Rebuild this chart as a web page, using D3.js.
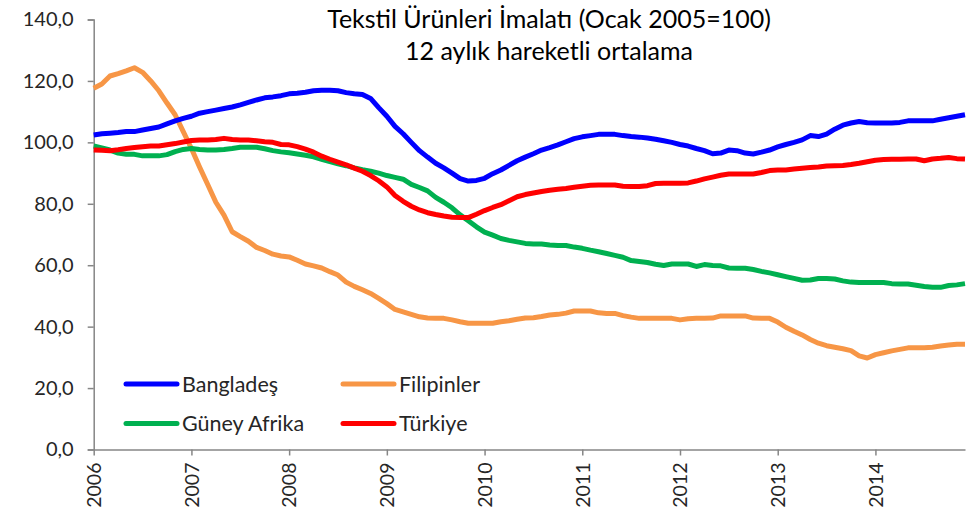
<!DOCTYPE html>
<html><head><meta charset="utf-8">
<script src="https://cdn.jsdelivr.net/npm/d3@7"></script>
<style>
html,body{margin:0;padding:0;background:#fff;}
svg{display:block;font-family:Lato,"Open Sans",sans-serif;}
</style></head>
<body>
<svg id="chart" width="977" height="515"></svg>
<script>
const titleLines = ["Tekstil Ürünleri İmalatı (Ocak 2005=100)", "12 aylık hareketli ortalama"];
const years = ["2006","2007","2008","2009","2010","2011","2012","2013","2014"];
const seriesNames = ["Bangladeş","Filipinler","Güney Afrika","Türkiye"];
const seriesColors = ["#0000FF","#F79646","#00B050","#FF0000"];
const yTicks = [0,20,40,60,80,100,120,140];

const bangladesh = [102.4,102.8,103.0,103.2,103.5,103.5,104.0,104.5,105.0,106.0,107.0,107.8,
108.5,109.5,110.0,110.5,111.0,111.5,112.2,113.0,113.8,114.5,114.8,115.2,
115.8,116.0,116.3,116.8,117.0,117.0,116.8,116.2,115.8,115.6,114.3,111.3,
108.5,105.2,102.8,100.0,97.3,95.2,93.2,91.7,90.0,88.2,87.4,87.6,
88.3,89.8,91.0,92.5,94.0,95.2,96.3,97.5,98.3,99.2,100.2,101.2,
101.8,102.2,102.6,102.6,102.6,102.2,101.9,101.7,101.4,101.0,100.5,100.0,
99.3,98.8,98.0,97.3,96.3,96.5,97.5,97.3,96.5,96.2,96.8,97.5,
98.5,99.3,100.0,100.8,102.2,101.9,102.7,104.3,105.6,106.3,106.8,106.4,
106.3,106.3,106.3,106.5,107.0,107.0,107.0,107.0,107.5,108.0,108.5,109.0];

const filipinler = [117.6,119.0,121.6,122.4,123.3,124.3,122.8,120.0,116.8,112.8,109.0,103.5,
98.0,92.0,86.3,80.5,76.3,70.9,69.3,67.8,65.8,64.8,63.6,63.0,
62.7,61.6,60.4,59.8,59.1,57.9,56.8,54.5,53.1,52.0,50.8,49.2,
47.5,45.6,44.8,44.0,43.2,42.8,42.7,42.7,42.2,41.6,41.1,41.1,
41.1,41.1,41.6,41.9,42.4,42.8,42.9,43.3,43.8,44.0,44.4,45.1,
45.1,45.1,44.5,44.3,44.3,43.6,43.1,42.7,42.7,42.7,42.7,42.7,
42.2,42.6,42.7,42.7,42.8,43.5,43.5,43.5,43.5,42.8,42.7,42.7,
41.5,39.8,38.5,37.3,35.8,34.6,33.8,33.3,32.8,32.2,30.5,29.8,
30.9,31.5,32.1,32.6,33.1,33.1,33.1,33.3,33.7,34.0,34.3,34.3];

const guneyAfrika = [98.8,98.2,97.5,96.5,96.1,96.1,95.6,95.6,95.6,96.0,97.0,97.7,
98.0,97.7,97.5,97.5,97.7,98.0,98.4,98.4,98.4,97.9,97.3,96.9,
96.6,96.2,95.8,95.3,94.5,93.7,93.0,92.4,91.7,91.1,90.6,90.0,
89.2,88.6,88.0,86.3,85.3,84.2,82.1,80.5,78.7,76.4,74.5,72.5,
70.8,69.8,68.7,68.1,67.6,67.1,66.9,66.9,66.6,66.4,66.4,65.9,
65.5,64.9,64.4,63.8,63.2,62.6,61.5,61.2,60.9,60.3,59.9,60.4,
60.4,60.4,59.6,60.2,59.9,59.8,59.1,59.0,59.0,58.6,58.0,57.5,
56.9,56.3,55.7,55.1,55.2,55.7,55.7,55.5,54.9,54.5,54.4,54.4,
54.4,54.4,54.0,53.9,53.9,53.5,53.1,52.8,52.8,53.4,53.6,54.0];

const turkiye = [97.5,97.4,97.3,97.6,98.0,98.3,98.6,98.8,98.8,99.2,99.6,100.1,
100.6,100.8,100.8,100.9,101.3,100.9,100.8,100.8,100.5,100.2,100.0,99.3,
99.2,98.6,97.8,96.8,95.5,94.5,93.6,92.7,91.6,90.6,89.2,87.5,
85.5,82.7,80.8,79.2,78.0,77.1,76.5,76.0,75.6,75.5,75.5,76.6,
77.8,78.8,79.7,81.0,82.3,83.0,83.5,84.0,84.4,84.7,85.0,85.4,
85.7,86.0,86.1,86.1,86.1,85.7,85.6,85.6,85.9,86.6,86.7,86.7,
86.7,86.8,87.4,88.1,88.7,89.3,89.7,89.7,89.7,89.7,90.2,90.8,
91.0,91.0,91.3,91.6,91.8,92.0,92.3,92.4,92.5,92.8,93.2,93.7,
94.2,94.4,94.5,94.5,94.6,94.6,94.0,94.6,94.8,95.1,94.7,94.6];

const seriesData = [bangladesh, filipinler, guneyAfrika, turkiye];
const drawOrder = [1,2,3,0];

const svg = d3.select("#chart");
const x0 = 93.7, x1 = 965, yBottom = 449.5, yTop = 19.5;
const x = d3.scaleLinear().domain([0, bangladesh.length - 1]).range([x0, x1]);
const y = d3.scaleLinear().domain([0, 140]).range([yBottom, yTop]);
const axisColor = "#868686";
const fmt = v => d3.format(".1f")(v).replace(".", ",");

// Y axis
const yAxis = svg.append("g").attr("transform", `translate(${x0},0)`)
  .call(d3.axisLeft(y).tickValues(yTicks).tickFormat(fmt).tickSize(6).tickPadding(14));
yAxis.select(".domain").attr("stroke", axisColor).attr("stroke-width", 1.5);
yAxis.selectAll(".tick line").attr("stroke", axisColor).attr("stroke-width", 1.5);
yAxis.selectAll(".tick text").attr("fill", "#262626").style("font-size", "20px").style("font-family", "Lato");

// X axis
const xAxis = svg.append("g").attr("transform", `translate(0,${yBottom})`)
  .call(d3.axisBottom(x).tickValues(years.map((d, i) => i * 12)).tickFormat((d, i) => years[i]).tickSize(6).tickSizeOuter(0));
xAxis.select(".domain").attr("stroke", axisColor).attr("stroke-width", 1.5);
xAxis.selectAll(".tick line").attr("stroke", axisColor).attr("stroke-width", 1.5);
xAxis.selectAll(".tick text")
  .attr("fill", "#262626").style("font-size", "19.5px").style("font-family", "Lato")
  .attr("transform", "rotate(-90)")
  .attr("text-anchor", "end")
  .attr("x", -13).attr("y", 0).attr("dy", "0.35em");

// Lines
const line = d3.line().x((d, i) => x(i)).y(d => y(d));
drawOrder.forEach(k => {
  svg.append("path").datum(seriesData[k])
    .attr("d", line).attr("fill", "none")
    .attr("stroke", seriesColors[k]).attr("stroke-width", 5)
    .attr("stroke-linejoin", "round").attr("stroke-linecap", "butt");
});

// Title
const title = svg.append("text").attr("x", 549).attr("text-anchor", "middle")
  .attr("fill", "#000").style("font-size", "25px").style("font-family", "Lato");
title.selectAll("tspan").data(titleLines).join("tspan")
  .attr("x", 549).attr("y", (d, i) => 28 + i * 32).text(d => d);

// Legend
const legendPos = [[126, 384], [343, 384], [126, 423.5], [343, 423.5]];
seriesNames.forEach((name, k) => {
  const [lx, ly] = legendPos[k];
  const g = svg.append("g");
  g.append("line").attr("x1", lx).attr("x2", lx + 51).attr("y1", ly).attr("y2", ly)
    .attr("stroke", seriesColors[k]).attr("stroke-width", 5).attr("stroke-linecap", "round");
  g.append("text").attr("x", lx + 56).attr("y", ly).attr("dy", "0.35em")
    .attr("fill", "#262626").style("font-size", "21.5px").style("font-family", "Lato").text(name);
});
</script>
</body></html>
